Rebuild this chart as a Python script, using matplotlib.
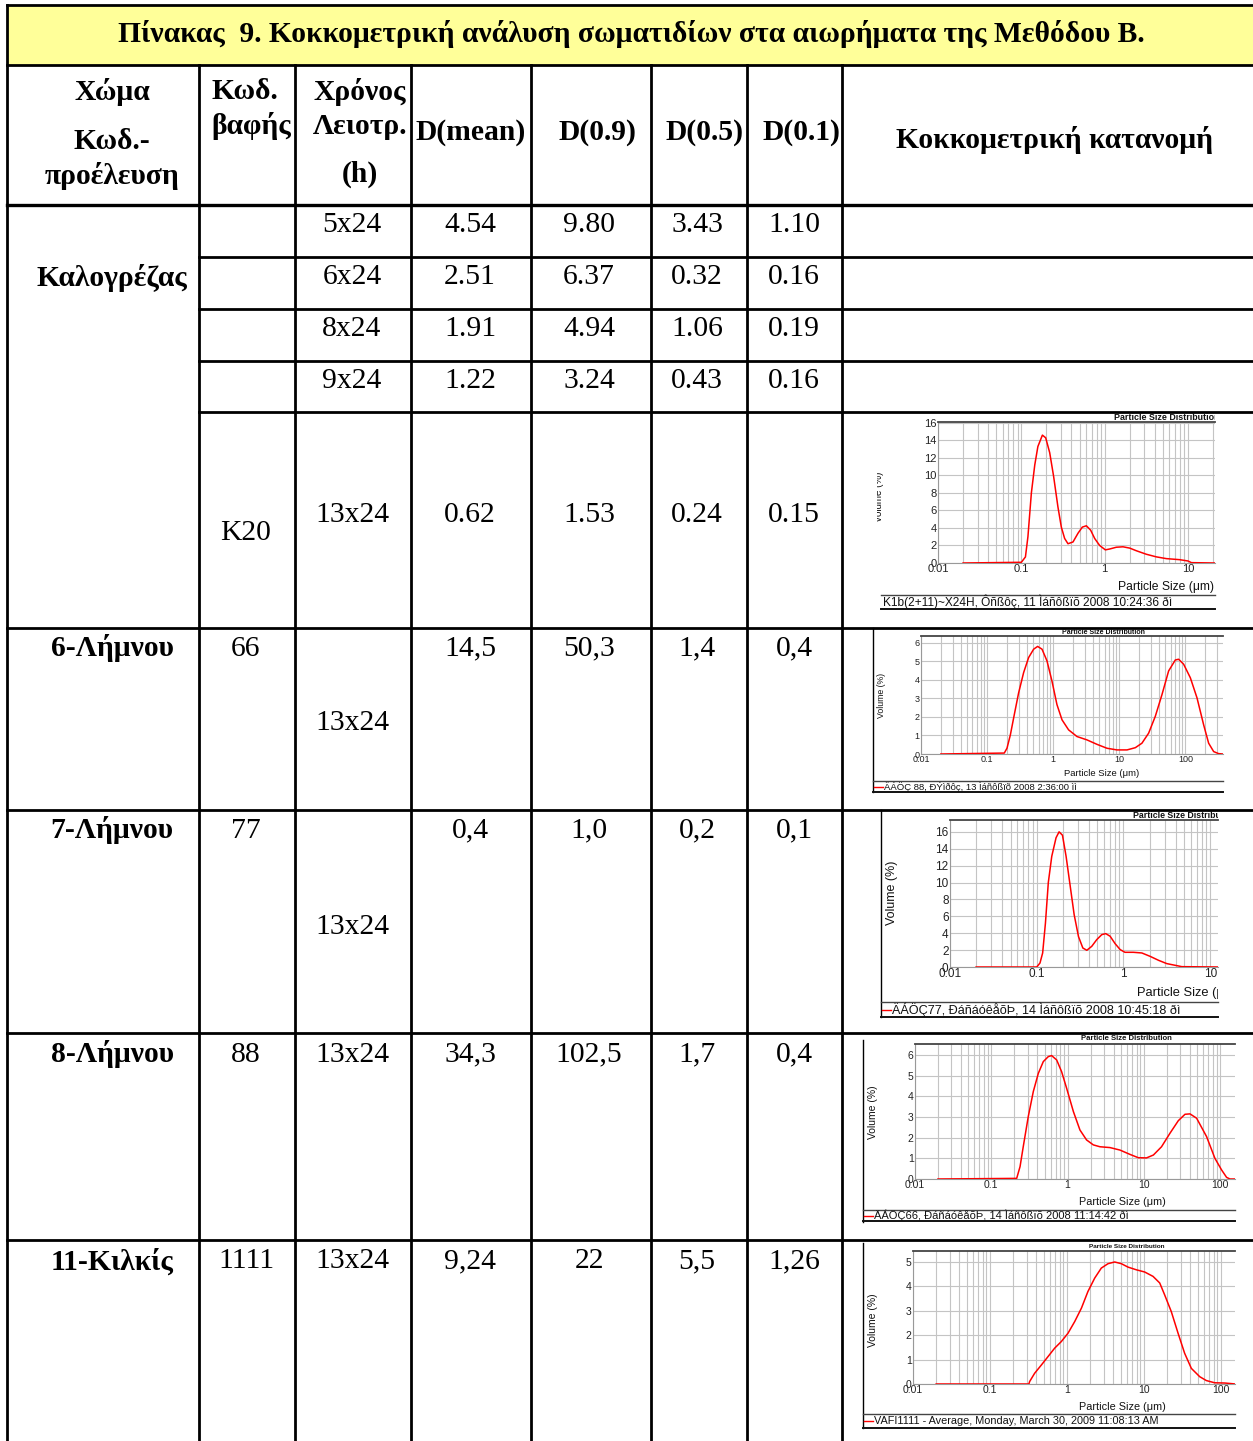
import matplotlib
matplotlib.use("Agg")
import matplotlib.pyplot as plt
from matplotlib.patches import Rectangle
from matplotlib.transforms import Bbox
from matplotlib.ticker import LogLocator, NullFormatter
import numpy as np

W, H = 1253, 1441
plt.rcParams['font.family'] = ['Liberation Sans', 'DejaVu Sans']
SERIF = ['Liberation Serif', 'DejaVu Serif']

## Table data
title = "Πίνακας  9. Κοκκομετρική ανάλυση σωματιδίων στα αιωρήματα της Μεθόδου Β."

kal_name = "Καλογρέζας"
kal_code = "K20"
kal_times = ["5x24", "6x24", "8x24", "9x24", "13x24"]
kal_dmean = ["4.54", "2.51", "1.91", "1.22", "0.62"]
kal_d90 = ["9.80", "6.37", "4.94", "3.24", "1.53"]
kal_d50 = ["3.43", "0.32", "1.06", "0.43", "0.24"]
kal_d10 = ["1.10", "0.16", "0.19", "0.16", "0.15"]

soils = ["6-Λήμνου", "7-Λήμνου", "8-Λήμνου", "11-Κιλκίς"]
codes = ["66", "77", "88", "1111"]
times = ["13x24", "13x24", "13x24", "13x24"]
dmean = ["14,5", "0,4", "34,3", "9,24"]
d90 = ["50,3", "1,0", "102,5", "22"]
d50 = ["1,4", "0,2", "1,7", "5,5"]
d10 = ["0,4", "0,1", "0,4", "1,26"]

## Particle size curves (size in um, volume in %)
c1_size = [0.02, 0.1, 0.112, 0.120, 0.132, 0.145, 0.158, 0.179, 0.196, 0.219, 0.244, 0.275,
           0.302, 0.331, 0.363, 0.417, 0.479, 0.540, 0.603, 0.679, 0.759, 0.871, 1.02, 1.15,
           1.38, 1.66, 2.0, 2.4, 3.16, 4.17, 5.5, 7.94, 10.0, 11.0, 21.0]
c1_vol = [0, 0.08, 0.69, 3.0, 8.0, 11.2, 13.3, 14.6, 14.3, 12.6, 9.9, 6.4,
          4.1, 2.8, 2.2, 2.4, 3.4, 4.1, 4.25, 3.75, 2.8, 2.0, 1.5, 1.6,
          1.8, 1.85, 1.7, 1.4, 1.0, 0.7, 0.5, 0.38, 0.23, 0.04, 0]
c1_legend = "K1b(2+11)~X24H, Ôñßôç, 11 Ìáñôßïõ 2008 10:24:36 ðì"

c2_size = [0.02, 0.182, 0.2, 0.225, 0.258, 0.30, 0.357, 0.425, 0.506, 0.582, 0.678, 0.806,
           0.959, 1.14, 1.36, 1.71, 2.29, 3.24, 4.6, 6.5, 9.2, 13.1, 17.5, 22.0, 27.8, 35.1,
           44.3, 55.8, 70.5, 79.1, 94.2, 119, 150, 189, 225, 268, 318, 371]
c2_vol = [0, 0.05, 0.31, 1.03, 2.12, 3.29, 4.38, 5.19, 5.64, 5.79, 5.64, 5.01,
          3.92, 2.66, 1.84, 1.30, 0.94, 0.76, 0.52, 0.31, 0.22, 0.22, 0.34, 0.58, 1.12, 2.03,
          3.2, 4.47, 5.06, 5.1, 4.83, 4.1, 3.02, 1.57, 0.58, 0.13, 0.02, 0]
c2_legend = "ÄÁÖÇ 88, ÐÝìðôç, 13 Ìáñôßïõ 2008 2:36:00 ìì"

c3_size = [0.02, 0.1, 0.109, 0.117, 0.126, 0.136, 0.149, 0.167, 0.181, 0.198, 0.218, 0.243,
           0.27, 0.303, 0.34, 0.378, 0.431, 0.492, 0.562, 0.625, 0.702, 0.80, 0.916, 1.04,
           1.30, 1.63, 2.03, 2.54, 3.16, 3.95, 4.71, 12.3]
c3_vol = [0, 0, 0.47, 1.66, 5.2, 10.0, 13.1, 15.3, 16.0, 15.6, 13.1, 9.6,
          6.2, 3.6, 2.25, 1.98, 2.45, 3.24, 3.83, 3.95, 3.64, 2.77, 2.06, 1.74,
          1.74, 1.66, 1.26, 0.79, 0.40, 0.2, 0.04, 0]
c3_legend = "ÄÁÖÇ77, ÐáñáóêåõÞ, 14 Ìáñôßïõ 2008 10:45:18 ðì"

c4_size = [0.02, 0.215, 0.238, 0.262, 0.305, 0.355, 0.413, 0.48, 0.558, 0.617, 0.718, 0.834,
           0.97, 1.19, 1.45, 1.77, 2.17, 2.65, 3.59, 4.85, 6.56, 8.43, 10.8, 13.3, 17.0, 21.9,
           28.2, 34.5, 40.1, 49.0, 66.2, 85.1, 104, 121, 134, 156]
c4_vol = [0, 0.03, 0.6, 1.56, 3.02, 4.23, 5.11, 5.68, 5.92, 5.97, 5.76, 5.19,
          4.39, 3.26, 2.37, 1.89, 1.65, 1.56, 1.52, 1.4, 1.19, 1.03, 1.02, 1.16, 1.56, 2.21,
          2.82, 3.13, 3.15, 2.94, 2.05, 1.0, 0.44, 0.08, 0, 0]
c4_legend = "ÄÁÖÇ66, ÐáñáóêåõÞ, 14 Ìáñôßïõ 2008 11:14:42 ðì"

c5_size = [0.02, 0.32, 0.327, 0.38, 0.465, 0.566, 0.692, 0.844, 1.03, 1.26, 1.54, 1.87,
           2.29, 2.79, 3.41, 4.16, 5.08, 6.2, 7.95, 10.2, 13.1, 16.0, 18.5, 22.6, 27.7, 33.7,
           41.2, 52.9, 64.6, 82.8, 112, 143, 152]
c5_vol = [0, 0, 0.1, 0.44, 0.78, 1.12, 1.47, 1.74, 2.08, 2.56, 3.11, 3.79,
          4.34, 4.75, 4.93, 5.0, 4.93, 4.79, 4.68, 4.59, 4.41, 4.14, 3.66, 2.97, 2.08, 1.26,
          0.64, 0.30, 0.14, 0.05, 0.04, 0.01, 0]
c5_legend = "VAFI1111 - Average, Monday, March 30, 2009 11:08:13 AM"

decades = [0.01, 0.1, 1, 10, 100]
decade_labels = ["0.01", "0.1", "1", "10", "100"]

## Figure and table grid (pixel coordinates)
fig = plt.figure(figsize=(W / 100, H / 100), dpi=100)
fig.patch.set_facecolor('white')
ax = fig.add_axes([0, 0, 1, 1])
ax.set_xlim(0, W)
ax.set_ylim(H, 0)
ax.axis('off')

ax.add_patch(Rectangle((7, 5), W, 60, facecolor='#FFFF99', edgecolor='none', zorder=0))


def line(xs, ys, lw=2.0, color='black'):
    ax.plot(xs, ys, color=color, lw=lw, solid_capstyle='projecting', zorder=3)


cols = [199, 295, 411, 531, 651, 747, 842]
line([7, 7], [5, H])
line([7, W], [5, 5])
line([7, W], [65, 65])
line([7, W], [205, 205], lw=2.4)
for x in cols:
    line([x, x], [65, H])
for y in [257, 309, 361, 412]:
    line([199, W], [y, y])
for y in [628, 810, 1033, 1240]:
    line([7, W], [y, y])

FS = 21.3


def stext(x, y, s, bold=False, size=FS, ha='center'):
    ax.text(x, y + 2.5, s, ha=ha, va='center', fontsize=size, family=SERIF,
            fontweight='bold' if bold else 'normal', zorder=4)


stext(631, 31, title, bold=True)

# header
stext(112, 89, "Χώμα", True)
stext(112, 139, "Κωδ.-", True)
stext(112, 173, "προέλευση", True)
stext(245, 89, "Κωδ.", True)
stext(251, 123, "βαφής", True)
stext(360, 89, "Χρόνος", True)
stext(360, 124, "Λειοτρ.", True)
stext(360, 172, "(h)", True)
stext(471, 130, "D(mean)", True)
stext(597, 130, "D(0.9)", True)
stext(705, 130, "D(0.5)", True)
stext(801, 130, "D(0.1)", True)
stext(1055, 138, "Κοκκομετρική κατανομή", True)

# Kalogrezas block
stext(112, 275, kal_name, True)
kal_y = [222, 274, 326, 378, 513]
for i, y in enumerate(kal_y):
    stext(352, y, kal_times[i])
    stext(470, y, kal_dmean[i])
    stext(589, y, kal_d90[i])
    stext(697, y, kal_d50[i])
    stext(794, y, kal_d10[i])
stext(246, 531, kal_code)

# other soils
row_top = [646, 828, 1052, 1259]
time_y = [721, 924, 1052, 1259]
for i in range(len(soils)):
    y = row_top[i]
    stext(112, y, soils[i], True)
    stext(246, y, codes[i])
    stext(352, time_y[i], times[i])
    stext(470, y, dmean[i])
    stext(589, y, d90[i])
    stext(697, y, d50[i])
    stext(794, y, d10[i])


## Small particle size charts
def ctext(x, y, s, size, clip=None, **kw):
    t = ax.text(x, y, s, fontsize=size, va='center', zorder=4, color='#111111', **kw)
    if clip is not None:
        # figure is drawn at 100 dpi, so display units are pixels
        t.set_clip_on(True)
        t.set_clip_box(Bbox.from_extents(clip[0], 0, clip[1], H))
    return t


def mini_chart(box, xmax, ymax, yticks, size, vol, fs):
    l, r, t, b = box
    cax = fig.add_axes([l / W, 1 - b / H, (r - l) / W, (b - t) / H])
    cax.set_xscale('log')
    cax.plot(size, vol, color='red', lw=1.1, zorder=3)
    cax.set_xticks(decades, labels=decade_labels)
    cax.xaxis.set_minor_locator(LogLocator(base=10, subs=np.arange(2, 10)))
    cax.xaxis.set_minor_formatter(NullFormatter())
    cax.set_yticks(yticks)
    cax.set_xlim(0.01, xmax)
    cax.set_ylim(0, ymax)
    cax.grid(True, which='both', axis='x', color='#c4c4c4', lw=0.8)
    cax.grid(True, which='major', axis='y', color='#c4c4c4', lw=0.8)
    cax.tick_params(which='both', length=0, labelsize=fs, pad=1, colors='#222222')
    cax.spines['right'].set_visible(False)
    cax.spines['left'].set_color('#999999')
    cax.spines['bottom'].set_color('#999999')
    cax.spines['top'].set_color('#444444')
    cax.spines['top'].set_linewidth(1.3)
    cax.set_facecolor('white')
    return cax


def legend_box(x0, x1, y_top, y_bot, text, fs, red=True):
    line([x0, x1], [y_top, y_top], lw=1.0, color='#444444')
    line([x0, x1], [y_bot, y_bot], lw=1.4, color='#111111')
    ym = (y_top + y_bot) / 2
    if red:
        ax.plot([x0 + 1, x0 + 10], [ym, ym], color='red', lw=1.0, zorder=4)
        ctext(x0 + 11, ym, text, fs, clip=(x0, x1), ha='left')
    else:
        ctext(x0 + 2, ym, text, fs, clip=(x0, x1), ha='left')


# chart 1 (Kalogrezas 13x24)
mini_chart((938, 1215, 422, 563), 21.1, 16.1, [0, 2, 4, 6, 8, 10, 12, 14, 16], c1_size, c1_vol, 8)
ctext(1114, 417, "Particle Size Distribution", 6.4, clip=(0, 1215), ha='left', fontweight='bold')
ctext(1166, 587, "Particle Size (μm)", 8.7, ha='center')
ctext(879, 497, "Volume (%)", 7, clip=(877, 1215), ha='center', rotation=90)
legend_box(881, 1215, 595, 609, c1_legend, 8.6, red=False)

# chart 2 (6-Limnou)
line([873, 873], [628, 792], lw=1.0)
mini_chart((921, 1223, 636, 754), 371, 6.35, [0, 1, 2, 3, 4, 5, 6], c2_size, c2_vol, 6.5)
ctext(1103, 632, "Particle Size Distribution", 5, ha='center', fontweight='bold')
ctext(1102, 774, "Particle Size (μm)", 6.8, ha='center')
ctext(882, 695, "Volume (%)", 6.3, ha='center', rotation=90)
legend_box(873, 1223, 781, 792, c2_legend, 6.8)

# chart 3 (7-Limnou)
line([881, 881], [810, 1017], lw=1.0)
mini_chart((950, 1218, 820, 967), 12.3, 17.4, [0, 2, 4, 6, 8, 10, 12, 14, 16], c3_size, c3_vol, 8.5)
ctext(1133, 815, "Particle Size Distribution", 6.3, clip=(0, 1218), ha='left', fontweight='bold')
ctext(1137, 993, "Particle Size (μm)", 9.3, clip=(0, 1218), ha='left')
ctext(892, 893, "Volume (%)", 9, ha='center', rotation=90)
legend_box(881, 1218, 1002, 1017, c3_legend, 9.1)

# chart 4 (8-Limnou)
line([863, 863], [1040, 1222], lw=1.0)
mini_chart((915, 1235, 1044, 1179), 156, 6.53, [0, 1, 2, 3, 4, 5, 6], c4_size, c4_vol, 7.5)
ctext(1126, 1039, "Particle Size Distribution", 5.6, ha='center', fontweight='bold')
ctext(1122, 1202, "Particle Size (μm)", 7.8, ha='center')
ctext(873, 1112, "Volume (%)", 7.5, ha='center', rotation=90)
legend_box(863, 1235, 1210, 1221, c4_legend, 8)

# chart 5 (11-Kilkis)
line([863, 863], [1243, 1428], lw=1.0)
mini_chart((913, 1235, 1251, 1384), 152, 5.45, [0, 1, 2, 3, 4, 5], c5_size, c5_vol, 7.5)
ctext(1127, 1246, "Particle Size Distribution", 4.6, ha='center', fontweight='bold')
ctext(1122, 1407, "Particle Size (μm)", 7.8, ha='center')
ctext(873, 1320, "Volume (%)", 7.5, ha='center', rotation=90)
legend_box(863, 1235, 1414, 1428, c5_legend, 7.8)

fig.savefig("out.png", dpi=100, facecolor='white')
